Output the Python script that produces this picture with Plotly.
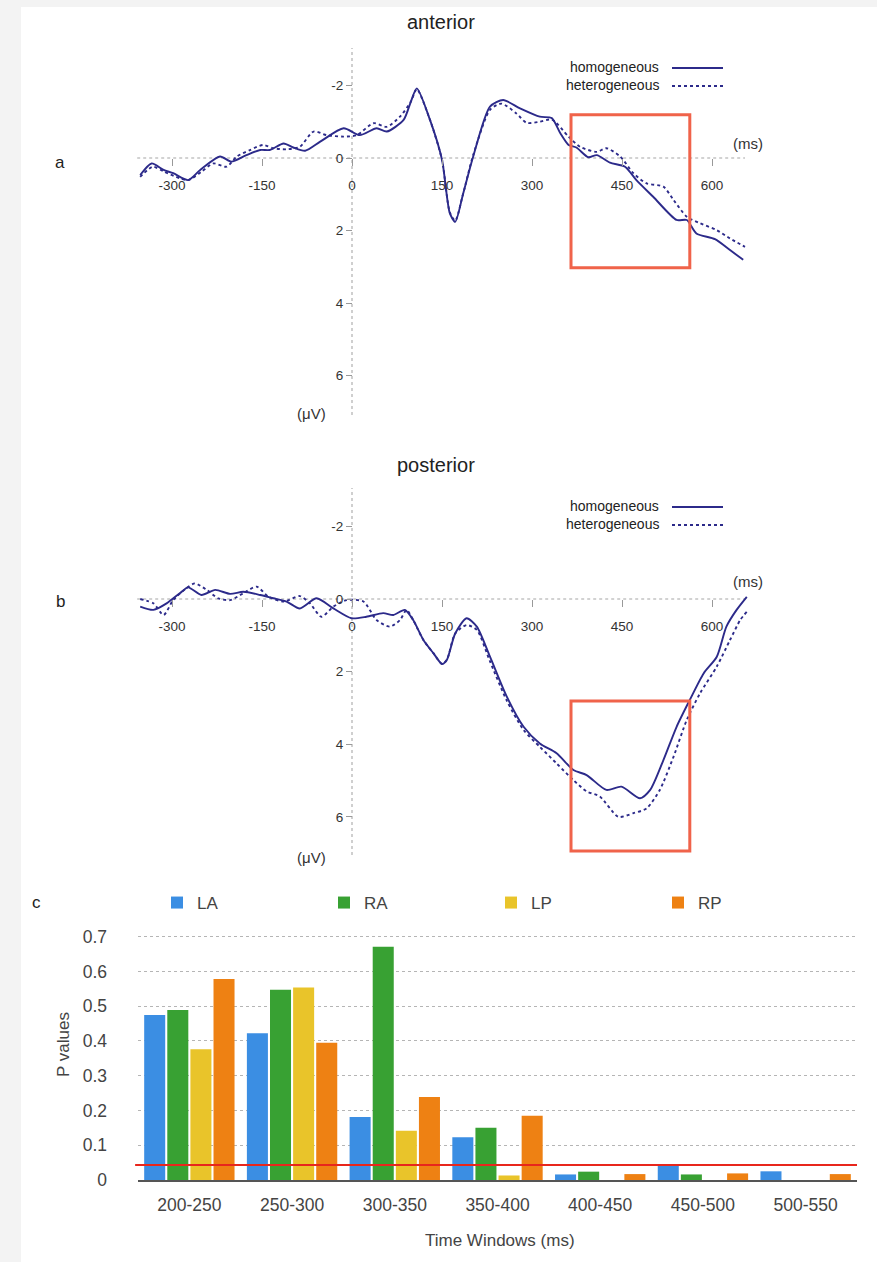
import plotly.graph_objects as go

W, H = 877, 1262
def fx(px): return px / W
def fy(py): return 1 - py / H

# ---------------- data ----------------
ant_t_homo = [-353,-334,-314,-298,-273,-253,-220,-201,-176,-153,-137,-114,-98,-78,-53,-14,13,41,58,86,98,108,130,150,163,172,185,202,230,252,280,313,333,347,361,374,394,408,430,455,474,502,541,558,574,605,630,652]
ant_v_homo = [0.47,0.15,0.33,0.42,0.61,0.33,-0.04,0.10,-0.08,-0.22,-0.22,-0.40,-0.29,-0.20,-0.45,-0.82,-0.63,-0.82,-0.73,-1.05,-1.55,-1.92,-1.05,0.05,1.52,1.76,1.00,-0.04,-1.42,-1.60,-1.37,-1.14,-1.10,-0.69,-0.36,-0.29,-0.02,-0.08,0.13,0.24,0.61,1.07,1.71,1.71,2.08,2.24,2.54,2.81]

ant_t_hetero = [-353,-332,-314,-287,-273,-251,-231,-209,-192,-170,-148,-131,-109,-87,-64,-42,-14,8,36,58,80,98,108,130,150,163,172,185,202,230,249,274,291,313,333,361,380,408,424,447,469,491,519,536,558,580,608,630,655]
ant_v_hetero = [0.52,0.24,0.37,0.56,0.61,0.38,0.15,0.24,-0.04,-0.22,-0.36,-0.27,-0.24,-0.31,-0.73,-0.63,-0.59,-0.63,-0.96,-0.86,-1.14,-1.55,-1.90,-1.05,0.05,1.50,1.73,1.00,-0.08,-1.33,-1.50,-1.23,-0.97,-1.00,-1.06,-0.59,-0.31,-0.17,-0.27,-0.04,0.42,0.70,0.79,1.16,1.62,1.80,1.99,2.22,2.45]

post_t_homo = [-353,-331,-309,-287,-273,-251,-228,-203,-181,-153,-131,-109,-87,-59,-31,-1,24,52,69,88,102,119,136,150,158,172,191,208,230,258,286,313,341,369,391,424,449,480,497,519,541,563,586,608,624,641,658]
post_v_homo = [0.21,0.30,0.12,-0.16,-0.32,-0.11,-0.25,-0.14,-0.20,-0.11,-0.02,0.07,0.26,-0.02,0.26,0.53,0.49,0.39,0.44,0.30,0.58,1.13,1.50,1.79,1.68,0.95,0.53,0.76,1.59,2.69,3.52,3.98,4.25,4.71,4.85,5.26,5.17,5.49,5.26,4.44,3.52,2.78,2.05,1.59,0.76,0.30,-0.06]

post_t_hetero = [-353,-331,-314,-298,-278,-262,-242,-223,-203,-181,-159,-139,-114,-87,-70,-51,-31,-9,19,41,63,80,91,102,119,136,150,158,172,191,208,230,258,286,313,341,369,391,413,444,469,491,513,536,558,580,608,630,647,658]
post_v_hetero = [0.00,0.12,0.44,0.03,-0.27,-0.43,-0.25,-0.02,0.03,-0.16,-0.34,-0.06,0.07,-0.08,0.12,0.49,0.21,0.03,0.07,0.58,0.76,0.58,0.30,0.58,1.13,1.50,1.79,1.68,0.95,0.72,0.85,1.72,2.80,3.61,4.07,4.53,4.99,5.30,5.44,6.00,5.90,5.77,5.26,4.34,3.33,2.60,1.86,1.13,0.58,0.35]

erp_xticks = [-300, -150, 0, 150, 300, 450, 600]
erp_xticktext = ["-300", "-150", "0", "150", "300", "450", "600"]
erp_yticks = [-2, 0, 2, 4, 6]
erp_yticktext = ["-2", "0", "2", "4", "6"]

windows = ["200-250", "250-300", "300-350", "350-400", "400-450", "450-500", "500-550"]
p_LA = [0.475, 0.422, 0.181, 0.123, 0.016, 0.043, 0.025]
p_RA = [0.489, 0.547, 0.671, 0.150, 0.024, 0.016, 0.0]
p_LP = [0.376, 0.554, 0.142, 0.013, 0.0, 0.0, 0.0]
p_RP = [0.578, 0.395, 0.239, 0.185, 0.017, 0.019, 0.017]
p_threshold = 0.043
p_ticks = [0, 0.1, 0.2, 0.3, 0.4, 0.5, 0.6, 0.7]
p_ticktext = ["0", "0.1", "0.2", "0.3", "0.4", "0.5", "0.6", "0.7"]

# ---------------- style ----------------
FONT = "Liberation Sans, Arial, Helvetica, sans-serif"
NAVY = "#2c2a8a"
AXG = "#c4c4c4"
RECT = "#f0634a"

fig = go.Figure()

def erp(t, v, dash, xa, ya):
    fig.add_trace(go.Scatter(x=t, y=v, mode="lines", xaxis=xa, yaxis=ya,
                             line=dict(color=NAVY, width=1.9, dash=dash, shape="spline", smoothing=0.7),
                             showlegend=False, hoverinfo="skip"))

erp(ant_t_hetero, ant_v_hetero, "dot", "x", "y")
erp(ant_t_homo, ant_v_homo, "solid", "x", "y")
erp(post_t_hetero, post_v_hetero, "dot", "x2", "y2")
erp(post_t_homo, post_v_homo, "solid", "x2", "y2")

bar_cols = {"LA": "#3b8ee3", "RA": "#38a133", "LP": "#e9c42a", "RP": "#ee8113"}
for name, vals in [("LA", p_LA), ("RA", p_RA), ("LP", p_LP), ("RP", p_RP)]:
    fig.add_trace(go.Bar(x=windows, y=vals, name=name, xaxis="x3", yaxis="y3",
                         marker=dict(color=bar_cols[name], line=dict(width=0)),
                         hoverinfo="skip"))

# ERP axes geometry
px_per_ms = 0.6
x0_px = 352
xl_px, xr_px = 130, 760
xr_ms = [(xl_px - x0_px) / px_per_ms, (xr_px - x0_px) / px_per_ms]

def erp_axes(top_px, bot_px, zero_px, pxuv):
    yr = [(bot_px - zero_px) / pxuv, (top_px - zero_px) / pxuv]
    xa = dict(domain=[fx(xl_px), fx(xr_px)], range=xr_ms, anchor="free",
              position=fy(zero_px), tickvals=erp_xticks, ticktext=erp_xticktext,
              ticks="outside", ticklen=7,
              tickcolor="#999", tickwidth=1, showgrid=False, zeroline=False, showline=False,
              tickfont=dict(family=FONT, size=13.5, color="#333"), ticklabelstandoff=8)
    ya = dict(domain=[fy(bot_px), fy(top_px)], range=yr, anchor="free",
              position=fx(x0_px), tickvals=erp_yticks, ticktext=erp_yticktext,
              ticks="outside", ticklen=6,
              tickcolor="#999", tickwidth=1, showgrid=False, zeroline=False, showline=False,
              tickfont=dict(family=FONT, size=13.5, color="#333"))
    return xa, ya, yr

xa1, ya1, yr1 = erp_axes(48, 415, 158, 36.25)
xa2, ya2, yr2 = erp_axes(488, 855, 599, 36.3)

shapes = []
# white page panel
shapes.append(dict(type="rect", xref="paper", yref="paper", x0=fx(21), x1=1.0, y0=0, y1=fy(7),
                   fillcolor="white", line=dict(width=0), layer="below"))
for xr_, yr_, yv in [("x", "y", yr1), ("x2", "y2", yr2)]:
    shapes.append(dict(type="line", xref=xr_, yref=yr_, x0=-358, x1=655, y0=0, y1=0,
                       line=dict(color=AXG, width=1.6, dash="dot"), layer="below"))
    shapes.append(dict(type="line", xref=xr_, yref=yr_, x0=0, x1=0, y0=yv[0], y1=yv[1],
                       line=dict(color=AXG, width=1.6, dash="dot"), layer="below"))
# red windows
shapes.append(dict(type="rect", xref="x", yref="y", x0=365, x1=563, y0=-1.19, y1=3.03,
                   line=dict(color=RECT, width=3)))
shapes.append(dict(type="rect", xref="x2", yref="y2", x0=365, x1=563, y0=2.81, y1=6.94,
                   line=dict(color=RECT, width=3)))
# threshold line
shapes.append(dict(type="line", xref="x3 domain", yref="y3", x0=-0.004, x1=1.0,
                   y0=p_threshold, y1=p_threshold, line=dict(color="#e8261c", width=2)))

annotations = []
def txt(s, px, py, size, anchor="center", color="#222", **kw):
    annotations.append(dict(text=s, x=fx(px), y=fy(py), xref="paper", yref="paper",
                            showarrow=False, xanchor=anchor, yanchor="middle",
                            font=dict(family=FONT, size=size, color=color), **kw))

txt("anterior", 441, 22, 20)
txt("posterior", 436, 465, 20)
txt("a", 60, 162, 17)
txt("b", 60, 601, 17)
txt("c", 36, 902, 17)
for py in (143, 581):
    txt("(ms)", 748, py, 15, color="#333")
for py in (413, 857):
    txt("(\u03bcV)", 311, py, 15, color="#333")
# ERP legends
for base in (67, 506):
    txt("homogeneous", 661, base, 14, anchor="right")
    txt("heterogeneous", 661, base + 18, 14, anchor="right")
    shapes.append(dict(type="line", xref="paper", yref="paper", x0=fx(672), x1=fx(723),
                       y0=fy(base + 1), y1=fy(base + 1), line=dict(color=NAVY, width=1.9)))
    shapes.append(dict(type="line", xref="paper", yref="paper", x0=fx(672), x1=fx(723),
                       y0=fy(base + 19), y1=fy(base + 19), line=dict(color=NAVY, width=1.9, dash="dot")))
# bar chart titles
txt("P values", 63, 1045, 17, color="#444", textangle=-90)
txt("Time Windows (ms)", 500, 1240, 17, color="#444")

bar_top_px, bar_zero_px = 930, 1180
px_per_p = 347.6
xa3 = dict(domain=[fx(138), fx(857)], anchor="y3", showline=True, linecolor="#555", linewidth=2,
           ticks="", showgrid=False, tickfont=dict(family=FONT, size=17.5, color="#444"),
           ticklabelstandoff=8)
ya3 = dict(domain=[fy(bar_zero_px), fy(bar_top_px)], anchor="x3",
           range=[0, (bar_zero_px - bar_top_px) / px_per_p],
           tickvals=p_ticks, ticktext=p_ticktext, showgrid=True, gridcolor="#b5b5b5",
           griddash="dot", gridwidth=1, zeroline=False, showline=False, ticks="",
           tickfont=dict(family=FONT, size=17.5, color="#444"), ticklabelstandoff=30)

fig.update_layout(
    width=W, height=H, template="none",
    margin=dict(l=0, r=0, t=0, b=0, autoexpand=False),
    paper_bgcolor="#f3f3f3", plot_bgcolor="rgba(0,0,0,0)",
    xaxis=xa1, yaxis=ya1, xaxis2=xa2, yaxis2=ya2, xaxis3=xa3, yaxis3=ya3,
    barmode="group", bargap=0.1, bargroupgap=0.09,
    shapes=shapes, annotations=annotations,
    showlegend=True,
    legend=dict(orientation="h", x=fx(157), y=fy(903), xanchor="left", yanchor="middle",
                entrywidth=122, entrywidthmode="pixels", bgcolor="rgba(0,0,0,0)",
                font=dict(family=FONT, size=17, color="#444"), traceorder="normal"),
    font=dict(family=FONT),
)

fig.write_html("out.html", config={"displayModeBar": False},
               post_script="document.body.style.margin='0px';document.body.style.overflow='hidden';")
